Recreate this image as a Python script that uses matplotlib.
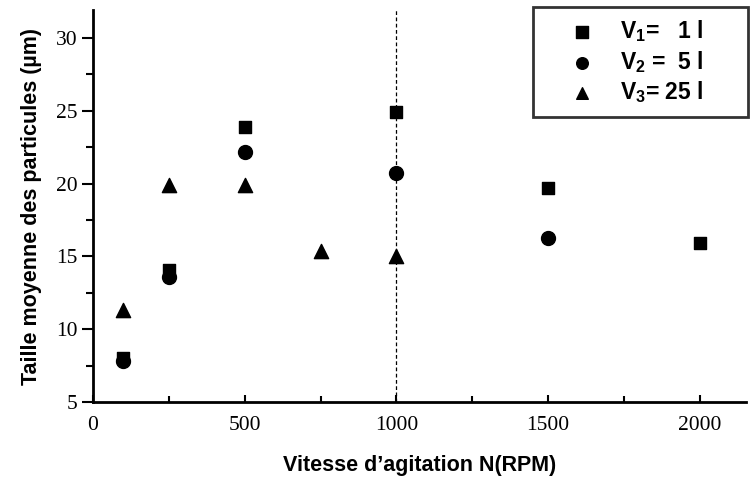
import matplotlib
matplotlib.use("Agg")
import matplotlib.pyplot as plt

plt.rcParams['mathtext.fontset'] = 'custom'
plt.rcParams['mathtext.rm'] = 'Liberation Sans:bold'
plt.rcParams['mathtext.it'] = 'Liberation Sans:bold'
plt.rcParams['mathtext.bf'] = 'Liberation Sans:bold'

x_v1 = [100, 250, 500, 1000, 1500, 2000]
y_v1 = [8.0, 14.1, 23.9, 24.9, 19.7, 15.9]
x_v2 = [100, 250, 500, 1000, 1500]
y_v2 = [7.8, 13.6, 22.2, 20.7, 16.3]
x_v3 = [100, 250, 500, 750, 1000]
y_v3 = [11.3, 19.9, 19.9, 15.4, 15.0]
labels = [r"V$_1$=   1 l", r"V$_2$ =  5 l", r"V$_3$= 25 l"]
xticks = [0, 500, 1000, 1500, 2000]
yticks = [5, 10, 15, 20, 25, 30]

fig = plt.figure(figsize=(7.5, 4.84), dpi=100)
ax = fig.add_axes([0.124, 0.169, 0.870, 0.810])

ax.scatter(x_v1, y_v1, marker='s', s=75, color='black', label=labels[0], zorder=3)
ax.scatter(x_v2, y_v2, marker='o', s=100, color='black', label=labels[1], zorder=3)
ax.scatter(x_v3, y_v3, marker='^', s=105, color='black', label=labels[2], zorder=3)
ax.axvline(1000, color='black', linestyle=(0, (3, 2)), linewidth=0.9, zorder=1)

ax.set_xlim(0, 2150)
ax.set_ylim(5, 31.9)
ax.set_xticks(xticks)
ax.set_yticks(yticks)
ax.set_xticks([250, 750, 1250, 1750], minor=True)
ax.set_yticks([7.5, 12.5, 17.5, 22.5, 27.5], minor=True)
for s in ['top', 'right']:
    ax.spines[s].set_visible(False)
for s in ['left', 'bottom']:
    ax.spines[s].set_linewidth(2)
ax.tick_params(axis='y', which='major', direction='out', length=8, width=1.5, labelsize=15.5, pad=3)
ax.tick_params(axis='y', which='minor', direction='out', length=5, width=1.5)
ax.tick_params(axis='x', which='major', direction='in', length=5, width=1.5, labelsize=15.5, pad=10)
ax.tick_params(axis='x', which='minor', direction='in', length=4, width=1.5)
for lab in ax.get_xticklabels() + ax.get_yticklabels():
    lab.set_fontfamily('Liberation Serif')

ax.set_xlabel("Vitesse d\u2019agitation N(RPM)", fontsize=15.5, fontweight='bold',
              fontfamily='Liberation Sans', labelpad=14)
ax.set_ylabel("Taille moyenne des particules (\u00b5m)", fontsize=15.5, fontweight='bold',
              fontfamily='Liberation Sans', labelpad=10)

leg = fig.legend(loc='upper left', bbox_to_anchor=(533 / 750, 1 - 7 / 484, 215 / 750, 0.0),
                 mode='expand', frameon=True, fancybox=False,
                 prop={'family': 'Liberation Sans', 'weight': 'bold', 'size': 16.5},
                 handletextpad=0.0, labelspacing=0.2, borderpad=0.5, borderaxespad=0.0,
                 handlelength=3.3)
leg.get_frame().set_edgecolor('black')
leg.get_frame().set_linewidth(2)
for h in leg.legend_handles:
    h.set_sizes([70])

fig.savefig("out.png", dpi=100)
